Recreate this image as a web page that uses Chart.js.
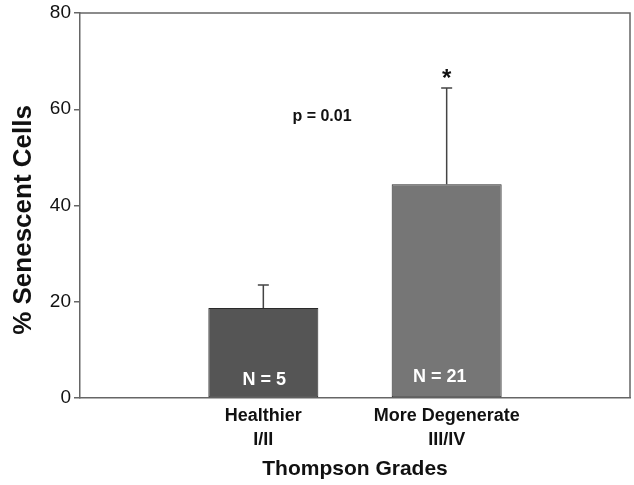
<!DOCTYPE html>
<html>
<head>
<meta charset="utf-8">
<script src="https://cdn.jsdelivr.net/npm/chart.js@4"></script>
<style>
  body { margin: 0; background: #fff; }
  #wrap { width: 634px; height: 485px; }
</style>
</head>
<body>
<div id="wrap"><canvas id="senescenceChart" width="634" height="485"></canvas></div>
<script>
// data
const groups = ['', ['Healthier', 'I/II'], ['More Degenerate', 'III/IV'], ''];
const meanPct = [null, 18.7, 44.4, null];
const errPct = [null, 4.8, 20.0, null];
const nLabels = [null, 'N = 5', 'N = 21', null];
const barColors = ['#555555', '#555555', '#767676', '#767676'];
const yTicks = [0, 20, 40, 60, 80];
const sigMark = [null, null, '*', null];
const pText = 'p = 0.01';

const fontFam = '"Liberation Sans", Arial, sans-serif';

// error bars, N labels, star, p value and the frame
const extras = {
    id: 'extras',
    afterDatasetsDraw(chart) {
        const c = chart.ctx;
        const xs = chart.scales.x, ys = chart.scales.y;
        const area = chart.chartArea;
        c.save();

        // upper error bars only
        c.strokeStyle = '#444';
        c.lineWidth = 1.5;
        meanPct.forEach((v, i) => {
            if (v == null) return;
            const x = xs.getPixelForValue(i);
            const y0 = ys.getPixelForValue(v);
            const y1 = ys.getPixelForValue(v + errPct[i]);
            c.beginPath();
            c.moveTo(x, y0);
            c.lineTo(x, y1);
            c.moveTo(x - 5.5, y1);
            c.lineTo(x + 5.5, y1);
            c.stroke();
        });

        // N inside bars
        c.fillStyle = '#fff';
        c.font = 'bold 18px ' + fontFam;
        c.textAlign = 'center';
        c.textBaseline = 'alphabetic';
        nLabels.forEach((t, i) => {
            if (!t) return;
            const x = xs.getPixelForValue(i) + (i === 2 ? -7 : 1);
            c.fillText(t, x, area.bottom - (i === 2 ? 16 : 13));
        });

        // significance star
        c.fillStyle = '#111';
        c.font = 'bold 24px ' + fontFam;
        sigMark.forEach((t, i) => {
            if (!t) return;
            const x = xs.getPixelForValue(i);
            const y = ys.getPixelForValue(meanPct[i] + errPct[i]);
            c.fillText(t, x, y - 2);
        });

        // p value
        c.font = 'bold 16px ' + fontFam;
        c.fillText(pText, area.left + (area.right - area.left) * 0.44, ys.getPixelForValue(57.5));

        // box around plot
        c.strokeStyle = '#666';
        c.lineWidth = 1.5;
        c.beginPath();
        c.moveTo(area.left, area.top);
        c.lineTo(area.right, area.top);
        c.lineTo(area.right, area.bottom);
        c.stroke();
        c.restore();
    }
};

const ctx = document.getElementById('senescenceChart').getContext('2d');
const chart = new Chart(ctx, {
    type: 'bar',
    data: {
        labels: groups,
        datasets: [{
            data: meanPct,
            backgroundColor: barColors,
            borderColor: '#2a2a2a',
            borderWidth: 1,
            borderSkipped: false,
            categoryPercentage: 1,
            barPercentage: 0.6
        }]
    },
    options: {
        responsive: false,
        animation: false,
        events: [],
        layout: { padding: { top: 13, right: 4, left: 0, bottom: 0 } },
        plugins: { legend: { display: false }, tooltip: { enabled: false } },
        scales: {
            x: {
                offset: false,
                grid: { display: false, drawTicks: false },
                border: { display: true, color: '#666', width: 1.5 },
                ticks: {
                    autoSkip: false,
                    maxRotation: 0,
                    padding: 7,
                    color: '#111',
                    font: { family: fontFam, size: 18, weight: 'bold', lineHeight: 1.28 }
                },
                title: {
                    display: true,
                    text: 'Thompson Grades',
                    color: '#111',
                    font: { family: fontFam, size: 21, weight: 'bold' },
                    padding: { top: 0, bottom: 3 }
                },
                afterFit(scale) {
                    scale.height = 87;
                    scale.paddingLeft = 0;
                    scale.paddingRight = 0;
                }
            },
            y: {
                min: 0,
                max: 80,
                afterBuildTicks(scale) { scale.ticks = yTicks.map(v => ({ value: v })); },
                grid: { drawOnChartArea: false, tickLength: 6, color: '#666', lineWidth: 1.5 },
                border: { display: true, color: '#666', width: 1.5 },
                ticks: {
                    padding: 3,
                    color: '#111',
                    font: { family: fontFam, size: 19 }
                },
                title: {
                    display: true,
                    // trailing spaces push the title down like in the figure
                    text: '% Senescent Cells\u00a0\u00a0\u00a0\u00a0',
                    color: '#111',
                    font: { family: fontFam, size: 26, weight: 'bold' },
                    padding: { top: 8, bottom: 0 }
                },
                afterFit(scale) {
                    scale.width = 80;
                    scale.paddingTop = 0;
                    scale.paddingBottom = 0;
                }
            }
        }
    },
    plugins: [extras]
});
</script>
</body>
</html>
